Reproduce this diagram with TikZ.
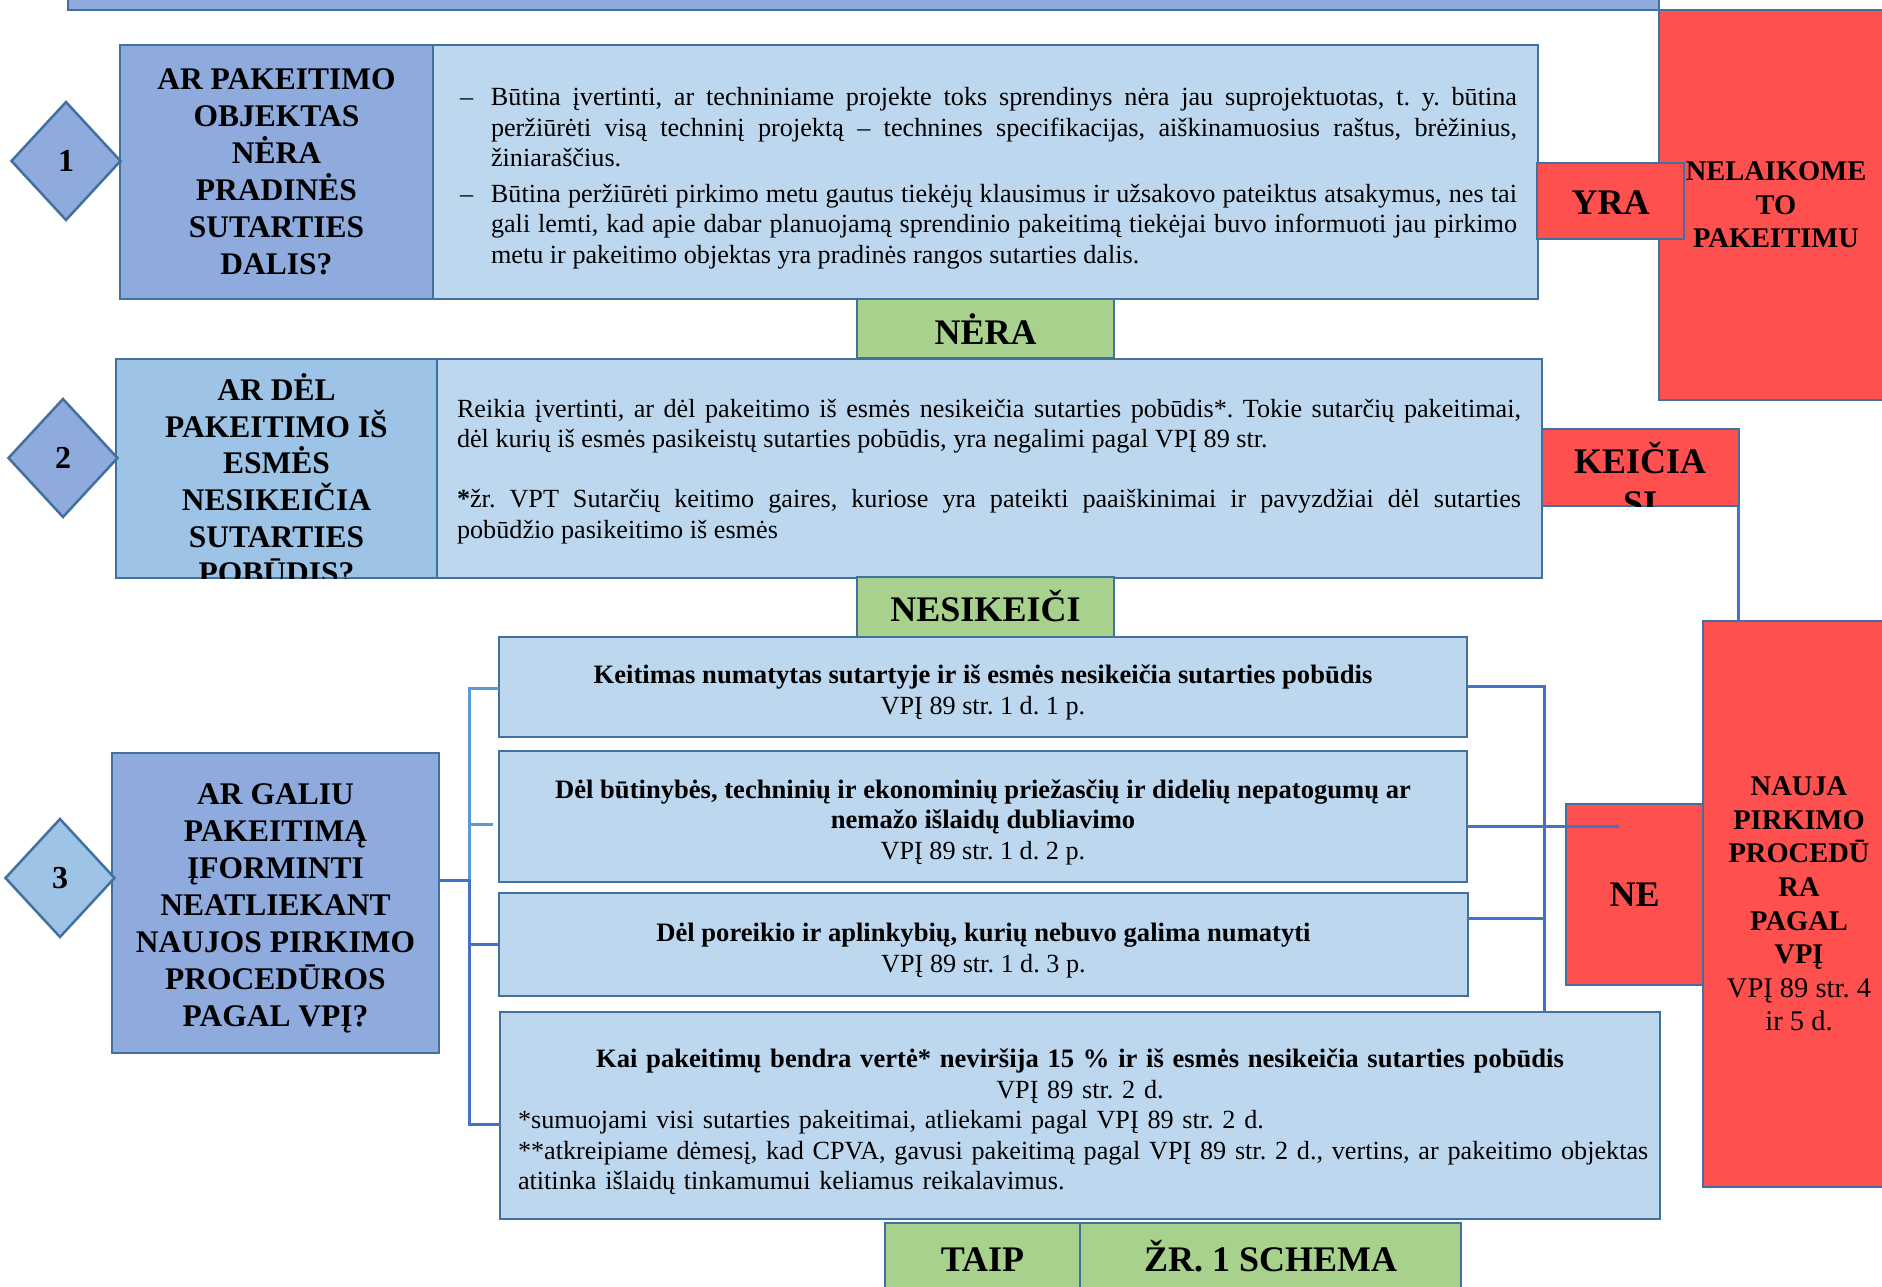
\documentclass[tikz,border=0pt]{standalone}
\usepackage{fontspec}
\setmainfont{Liberation Serif}
\usetikzlibrary{shapes.geometric}
\definecolor{qblue}{HTML}{8FAADC}
\definecolor{qblueL}{HTML}{9DC3E6}
\definecolor{lblue}{HTML}{BDD7EE}
\definecolor{redf}{HTML}{FF5050}
\definecolor{greenf}{HTML}{A9D18E}
\definecolor{bordc}{HTML}{41719C}
\definecolor{lineA}{HTML}{4472C4}
\definecolor{lineB}{HTML}{5B9BD5}
\hyphenpenalty=10000
\exhyphenpenalty=10000
\frenchspacing
\newcommand\myQ{\fontsize{31.5}{37}\selectfont\bfseries\lineskiplimit=-50pt}
\newcommand\myQb{\fontsize{31.5}{36.6}\selectfont\bfseries\lineskiplimit=-50pt}
\newcommand\myBody{\fontsize{26.2}{30.5}\selectfont\frenchspacing\lineskiplimit=-50pt\lineskip=0pt}
\newcommand\myBold{\fontsize{26.6}{30.5}\selectfont\bfseries}
\newcommand\myBig{\fontsize{36}{42}\selectfont\bfseries\lineskiplimit=-50pt}
\newcommand\myRed{\fontsize{28.5}{33.6}\selectfont\bfseries\lineskiplimit=-50pt}
\newcommand\myNum{\fontsize{32}{36}\selectfont\bfseries}
\newcommand\myStrut[1]{\rule{0pt}{#1}}
\newcommand\mybox[7]{%
  \node[#2, minimum width={(#5)-(#3)}, minimum height={(#6)-(#4)}] (#1) at ({((#3)+(#5))/2},{((#4)+(#6))/2}) {#7};}
\tikzset{
  base/.style={draw=bordc, line width=2.5pt, inner sep=0pt, outer sep=0pt},
  qbox/.style={base, fill=qblue, font=\myQ, align=center},
  qboxL/.style={base, fill=qblueL},
  tbox/.style={base, fill=lblue, font=\myBody},
  ttext/.style={inner sep=0pt, font=\myBody, align=justify},
  redbox/.style={base, fill=redf},
  greenbox/.style={base, fill=greenf, font=\myBig, text height=28pt, text depth=0pt},
  dia/.style={base, diamond, fill=qblue, minimum width=109pt, minimum height=118pt, font=\myNum},
  connA/.style={draw=lineA, line width=3pt},
  connB/.style={draw=lineB, line width=3pt},
}
\begin{document}
\begin{tikzpicture}[x=1pt,y=-1pt]
\useasboundingbox[fill=white] (0,0) rectangle (1882,1287);

% top bar and right red box
\mybox{topbar}{base, fill=qblue}{68}{-30}{1659}{10}{}
\mybox{nelaikome}{redbox, font=\myRed, align=center}{1659}{10}{1893}{400}{NELAIKOME\\TO\\PAKEITIMU}

% row 1
\mybox{q1}{qbox}{120}{45}{433}{299}{AR PAKEITIMO\\OBJEKTAS\\NĖRA\\PRADINĖS\\SUTARTIES\\DALIS?}
\mybox{t1}{tbox}{433}{45}{1538}{299}{}
\node[ttext, text width=1057pt] (t1text) at (988.5,178) {%
\hangindent=31pt\hangafter=1\noindent\makebox[31pt][l]{–}Būtina įvertinti, ar techniniame projekte toks sprendinys nėra jau suprojektuotas, t. y. būtina\linebreak peržiūrėti visą techninį projektą – technines specifikacijas, aiškinamuosius raštus, brėžinius,\linebreak žiniaraščius.\par
\vspace{5pt}
\hangindent=31pt\hangafter=1\noindent\makebox[31pt][l]{–}Būtina peržiūrėti pirkimo metu gautus tiekėjų klausimus ir užsakovo pateiktus atsakymus, nes tai\linebreak gali lemti, kad apie dabar planuojamą sprendinio pakeitimą tiekėjai buvo informuoti jau pirkimo\linebreak metu ir pakeitimo objektas yra pradinės rangos sutarties dalis.\par};
\node[dia] (d1) at (66,161) {1};
\mybox{yra}{redbox, font=\myBig, text height=26pt, text depth=0pt}{1537}{163}{1684}{239}{YRA}
\mybox{nera}{greenbox, text height=31pt}{857}{299}{1114}{358}{NĖRA}

% row 2
\mybox{q2}{qboxL}{116}{359}{437}{578}{}
\begin{scope}
\clip (q2.south west) rectangle (q2.north east);
\node[font=\myQb, align=center, inner sep=0pt] (q2text) at (276.5,479) {AR DĖL\\PAKEITIMO IŠ\\ESMĖS\\NESIKEIČIA\\SUTARTIES\\POBŪDIS?};
\end{scope}
\mybox{t2}{tbox}{437}{359}{1542}{578}{}
\node[ttext, text width=1064pt] (t2text) at (989,471.5) {%
Reikia įvertinti, ar dėl pakeitimo iš esmės nesikeičia sutarties pobūdis*. Tokie sutarčių pakeitimai,\linebreak dėl kurių iš esmės pasikeistų sutarties pobūdis, yra negalimi pagal VPĮ 89 str.\par
\vspace{29.5pt}
\noindent\textbf{*}žr. VPT Sutarčių keitimo gaires, kuriose yra pateikti paaiškinimai ir pavyzdžiai dėl sutarties\linebreak pobūdžio pasikeitimo iš esmės\par};
\node[dia] (d2) at (63,458) {2};
\mybox{keicia}{redbox}{1542}{429}{1739}{506}{}
\begin{scope}
\clip (keicia.south west) rectangle (keicia.north east);
\node[font=\myBig, align=center, inner sep=0pt] (keiciatext) at (1640,479) {KEIČIA\\SI};
\end{scope}
\mybox{nesikeici}{greenbox}{857}{577}{1114}{638}{NESIKEIČI}

% row 3
\mybox{q3}{qbox}{112}{753}{439}{1053}{\myStrut{31pt}AR GALIU\\PAKEITIMĄ\\ĮFORMINTI\\NEATLIEKANT\\NAUJOS PIRKIMO\\PROCEDŪROS\\PAGAL VPĮ?}
\node[dia, fill=qblueL] (d3) at (60,878) {3};
\mybox{b3a}{tbox, align=center}{499}{637}{1467}{737}{{\myBold\myStrut{30pt}Keitimas numatytas sutartyje ir iš esmės nesikeičia sutarties pobūdis}\\VPĮ 89 str. 1 d. 1 p.}
\mybox{b3b}{tbox, align=center}{499}{751}{1467}{882}{{\myBold\myStrut{30pt}Dėl būtinybės, techninių ir ekonominių priežasčių ir didelių nepatogumų ar}\\{\myBold nemažo išlaidų dubliavimo}\\VPĮ 89 str. 1 d. 2 p.}
\mybox{b3c}{tbox, align=center}{499}{893}{1468}{996}{{\myBold\myStrut{31pt}Dėl poreikio ir aplinkybių, kurių nebuvo galima numatyti}\\VPĮ 89 str. 1 d. 3 p.}
\mybox{b3d}{tbox, text width=1124pt, align=left}{500}{1012}{1660}{1219}{%
\makebox[1124pt]{\myBold\myStrut{32pt}Kai pakeitimų bendra vertė* neviršija 15 \% ir iš esmės nesikeičia sutarties pobūdis}\\
\makebox[1124pt]{VPĮ 89 str. 2 d.}\\
{}*sumuojami visi sutarties pakeitimai, atliekami pagal VPĮ 89 str. 2 d.\\
\mbox{**atkreipiame dėmesį, kad CPVA, gavusi pakeitimą pagal VPĮ 89 str. 2 d., vertins, ar pakeitimo objektas}\\
atitinka išlaidų tinkamumui keliamus reikalavimus.}
\mybox{nauja}{redbox, font=\myRed, align=center}{1703}{621}{1895}{1187}{NAUJA\\PIRKIMO\\PROCEDŪ\\RA\\PAGAL\\VPĮ\\{\mdseries VPĮ 89 str. 4}\\{\mdseries ir 5 d.}}
\mybox{ne}{redbox, font=\myBig}{1566}{804}{1703}{985}{NE}
\mybox{taip}{greenbox}{885}{1223}{1080}{1291}{TAIP}
\mybox{zr}{greenbox}{1080}{1223}{1461}{1291}{ŽR. 1 SCHEMA}

% connectors
\coordinate (LT) at (469,688);
\coordinate (LM) at (469,880);
\coordinate (LB) at (469,1124);
\coordinate (Ls) at (493,824);
\coordinate (Lc) at (469,944);
\draw[connB] (LM) -- (LT) -- (LT -| b3a.west);
\draw[connB] (LT |- Ls) -- (Ls);
\draw[connA] (LM -| q3.east) -- (LM) -- (LB) -- (LB -| b3d.west);
\draw[connA] (Lc) -- (Lc -| b3c.west);
\coordinate (RT) at (1544,686);
\coordinate (Rb) at (1619,826);
\coordinate (Rc) at (1543,918);
\draw[connA] (RT -| b3a.east) -- (RT) -- (RT |- b3d.north);
\draw[connA] (Rb -| b3b.east) -- (Rb);
\draw[connA] (Rc -| b3c.east) -- (Rc);
\draw[connA] ([xshift=-1pt]keicia.south east) -- ([xshift=-1pt]keicia.south east |- nauja.north);
\end{tikzpicture}
\end{document}
